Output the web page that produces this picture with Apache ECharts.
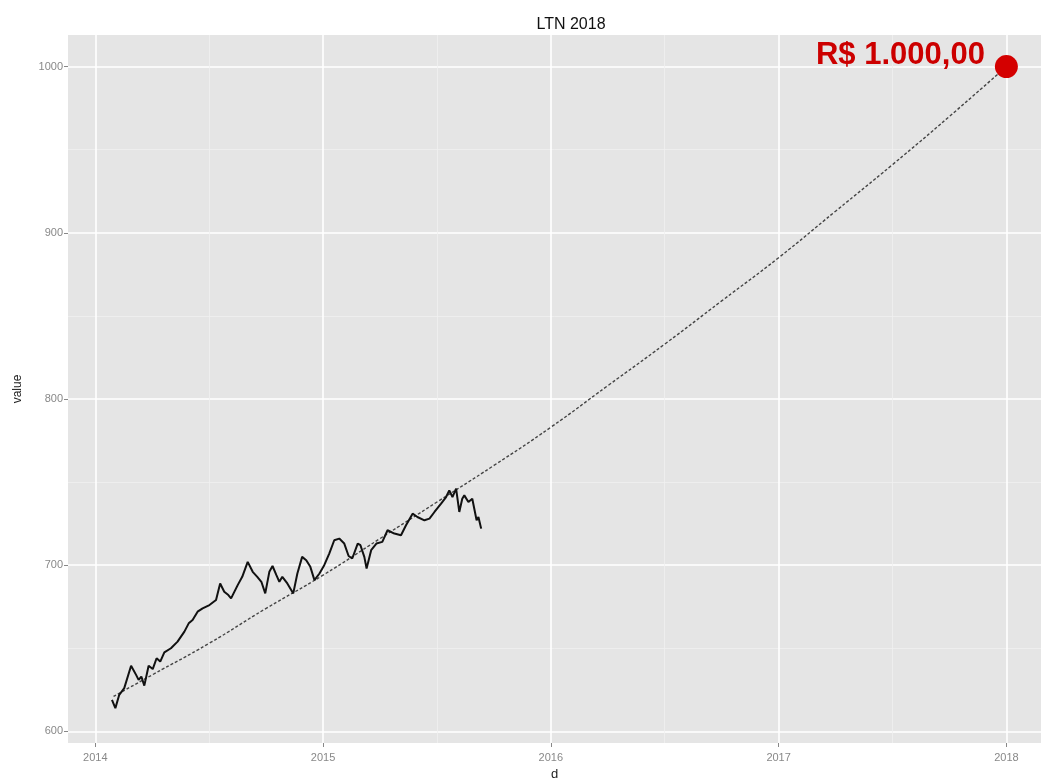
<!DOCTYPE html>
<html>
<head>
<meta charset="utf-8">
<title>LTN 2018</title>
<script src="https://cdn.jsdelivr.net/npm/echarts@6.0.0/dist/echarts.min.js"></script>
<style>
  html, body { margin: 0; padding: 0; background: #fff; }
  #main { width: 1041px; height: 780px; }
</style>
</head>
<body>
<div id="main"></div>
<script>
// eixos (anos em decimal)
const xTicks = [2014, 2015, 2016, 2017, 2018]
const xMinor = [2014.5, 2015.5, 2016.5, 2017.5]
const yTicks = [600, 700, 800, 900, 1000]
const yMinor = [650, 750, 850, 950]

// preço do título (linha preta)
const priceDates = [
  2014.073, 2014.088, 2014.105, 2014.127, 2014.157, 2014.179, 2014.190, 2014.202, 2014.215, 2014.234,
  2014.252, 2014.269, 2014.285, 2014.303, 2014.332, 2014.361, 2014.391, 2014.410, 2014.427, 2014.449,
  2014.471, 2014.501, 2014.530, 2014.548, 2014.566, 2014.584, 2014.596, 2014.625, 2014.645, 2014.669,
  2014.691, 2014.711, 2014.729, 2014.746, 2014.764, 2014.778, 2014.795, 2014.808, 2014.821, 2014.843,
  2014.869, 2014.887, 2014.908, 2014.926, 2014.944, 2014.962, 2014.984, 2015.005, 2015.027, 2015.049,
  2015.071, 2015.093, 2015.112, 2015.128, 2015.152, 2015.164, 2015.181, 2015.191, 2015.211, 2015.234,
  2015.260, 2015.283, 2015.313, 2015.342, 2015.364, 2015.393, 2015.414, 2015.445, 2015.467, 2015.489,
  2015.518, 2015.540, 2015.554, 2015.568, 2015.584, 2015.598, 2015.611, 2015.620, 2015.638, 2015.655,
  2015.674, 2015.682, 2015.694
]
const priceValues = [
  619, 614, 622, 626, 639.5, 634, 631, 633, 627.5, 639.5,
  637.5, 644, 642, 647.5, 650, 654, 660, 665, 667, 672,
  674, 676, 679, 689, 684, 682, 680, 688, 693, 702,
  696, 693, 690, 683, 696, 699.5, 694, 690, 693, 689,
  683, 695, 705, 703, 699, 691, 695, 700, 707, 715,
  716, 713, 705.5, 704, 713, 712, 705, 698, 709, 713,
  714, 721, 719, 718, 724, 731, 729, 727, 728, 732,
  737, 741, 745, 741, 746, 732, 740, 742, 738, 740,
  727, 729, 722
]

// curva até o vencimento (pontilhada)
const curveDates = [2014.08, 2014.25, 2014.5, 2014.75, 2015.0, 2015.25, 2015.5, 2015.75,
  2016.0, 2016.25, 2016.5, 2016.75, 2017.0, 2017.25, 2017.5, 2017.75, 2018.0]
const curveValues = [621, 634, 653, 674, 694, 716, 738, 760,
  783, 808, 833, 859, 885, 913, 941, 970, 1000]

// vencimento
const endDate = 2018.0
const endValue = 1000
const endLabel = 'R$ 1.000,00'

const chart = echarts.init(document.getElementById('main'), null, { renderer: 'canvas' })

const zip = (a, b) => a.map((d, i) => [d, b[i]])

const font = 'Liberation Sans, Arial, Helvetica, sans-serif'

let option = {
  animation: false,
  backgroundColor: '#ffffff',
  textStyle: { fontFamily: font },
  title: {
    text: 'LTN 2018',
    left: 566,
    top: 12,
    textAlign: 'center',
    textStyle: { fontSize: 16, fontWeight: 'normal', color: '#111', fontFamily: font }
  },
  grid: {
    left: 68,
    top: 35,
    right: 0,
    height: 708,
    outerBoundsMode: 'none',
    show: true,
    backgroundColor: '#e5e5e5',
    borderWidth: 0
  },
  xAxis: [{
    type: 'value',
    min: 2013.88,
    max: 2018.152,
    name: 'd',
    nameLocation: 'middle',
    nameGap: 23,
    nameTextStyle: { fontSize: 13, color: '#222' },
    axisLine: { show: false },
    axisTick: { show: true, customValues: xTicks, length: 4, lineStyle: { color: '#888' } },
    axisLabel: { customValues: xTicks, color: '#888', fontSize: 11, margin: 9, formatter: v => String(v) },
    splitLine: { show: true, lineStyle: { color: '#ffffff', width: 1.6 } }
  }, {
    type: 'value',
    min: 2013.88,
    max: 2018.152,
    position: 'bottom',
    axisLine: { show: false },
    axisTick: { show: false, customValues: xMinor },
    axisLabel: { show: false },
    splitLine: { show: true, lineStyle: { color: '#f0f0f0', width: 0.8 } }
  }],
  yAxis: [{
    type: 'value',
    min: 593,
    max: 1019,
    name: 'value',
    nameLocation: 'middle',
    nameGap: 44,
    nameTextStyle: { fontSize: 12, color: '#222' },
    axisLine: { show: false },
    axisTick: { show: true, customValues: yTicks, length: 4, lineStyle: { color: '#888' } },
    axisLabel: { customValues: yTicks, color: '#888', fontSize: 11, margin: 5, formatter: v => String(v) },
    splitLine: { show: true, lineStyle: { color: '#ffffff', width: 1.6 } }
  }, {
    type: 'value',
    min: 593,
    max: 1019,
    position: 'left',
    axisLine: { show: false },
    axisTick: { show: false, customValues: yMinor },
    axisLabel: { show: false },
    splitLine: { show: true, lineStyle: { color: '#f0f0f0', width: 0.8 } }
  }],
  series: [{
      name: 'curva',
      type: 'line',
      data: zip(curveDates, curveValues),
      smooth: true,
      showSymbol: false,
      lineStyle: { color: '#444', width: 1.4, type: [3, 2] },
      z: 2
    },
    {
      name: 'preço',
      type: 'line',
      data: zip(priceDates, priceValues),
      showSymbol: false,
      lineStyle: { color: '#111', width: 2 },
      z: 3
    },
    {
      name: 'vencimento',
      type: 'scatter',
      data: [[endDate, endValue]],
      symbolSize: 23,
      itemStyle: { color: '#d40000', opacity: 1 },
      label: {
        show: true,
        position: 'left',
        distance: 10,
        offset: [0, -11],
        formatter: endLabel,
        color: '#cc0000',
        fontSize: 31,
        fontWeight: 'bold',
        fontFamily: font
      },
      z: 4
    }
  ]
}

chart.setOption(option)
</script>
</body>
</html>
